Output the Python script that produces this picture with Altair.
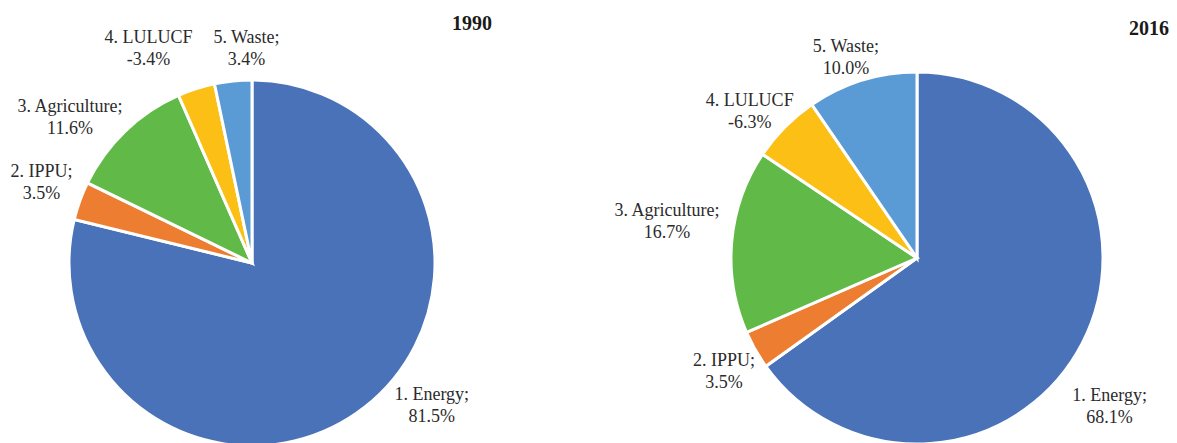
import altair as alt
import pandas as pd

categories = ["1. Energy", "2. IPPU", "3. Agriculture", "4. LULUCF", "5. Waste"]
label_names = ["1. Energy;", "2. IPPU;", "3. Agriculture;", "4. LULUCF", "5. Waste;"]
years = ["1990", "2016"]
share_1990 = [81.5, 3.5, 11.6, -3.4, 3.4]
share_2016 = [68.1, 3.5, 16.7, -6.3, 10.0]
colors = ["#4A72B8", "#ED7D31", "#61BA48", "#FBBF15", "#5B9BD5"]

FONT = "Liberation Serif"
TXT = "#2b2b2b"


def frame(shares):
    return pd.DataFrame({
        "cat": categories,
        "order": list(range(len(categories))),
        "size": [abs(v) for v in shares],
        "label": [f"{n}\n{v:.1f}%" for n, v in zip(label_names, shares)],
    })


def pie(shares, year, cx, cy, r, R, nudges, tx, ty):
    base = alt.Chart(frame(shares))
    theta = alt.Theta("size:Q", stack=True)
    arc = base.mark_arc(outerRadius=r, stroke="white", strokeWidth=3).encode(
        theta=theta,
        order=alt.Order("order:Q"),
        color=alt.Color("cat:N", scale=alt.Scale(domain=categories, range=colors), legend=None),
        x=alt.value(cx),
        y=alt.value(cy),
    )
    layers = [arc]
    for c, (dx, dy) in zip(categories, nudges):
        layers.append(
            base.mark_text(
                radius=R, dx=dx, dy=dy, font=FONT, fontSize=18, lineBreak="\n",
                lineHeight=22, align="center", baseline="middle", color=TXT,
            ).encode(
                theta=theta,
                order=alt.Order("order:Q"),
                x=alt.value(cx),
                y=alt.value(cy),
                text=alt.condition(alt.datum.cat == c, alt.Text("label:N"), alt.value("")),
            )
        )
    title = alt.Chart(pd.DataFrame({"year": [year]})).mark_text(
        font=FONT, fontSize=20, fontWeight="bold", align="right", baseline="middle", color="#1a1a1a"
    ).encode(text="year:N", x=alt.value(tx), y=alt.value(ty))
    layers.append(title)
    return alt.layer(*layers)


nudge_1990 = [(39, -47), (4, -14), (-24, 8), (-34, -8), (18, 2)]
nudge_2016 = [(-12, 33), (7, -11), (-21, -26), (-4, 5), (-3, 9)]

p1 = pie(share_1990, years[0], 244, 255, 183, 228, nudge_1990, 484, 16)
p2 = pie(share_2016, years[1], 909, 250, 186, 230, nudge_2016, 1161, 21)

chart = alt.layer(p1, p2).resolve_scale(theta="independent").properties(
    width=1161, height=435, padding=0, autosize="none"
).configure_view(stroke=None)

chart.save("out.html", embed_options={"renderer": "svg", "actions": False})
